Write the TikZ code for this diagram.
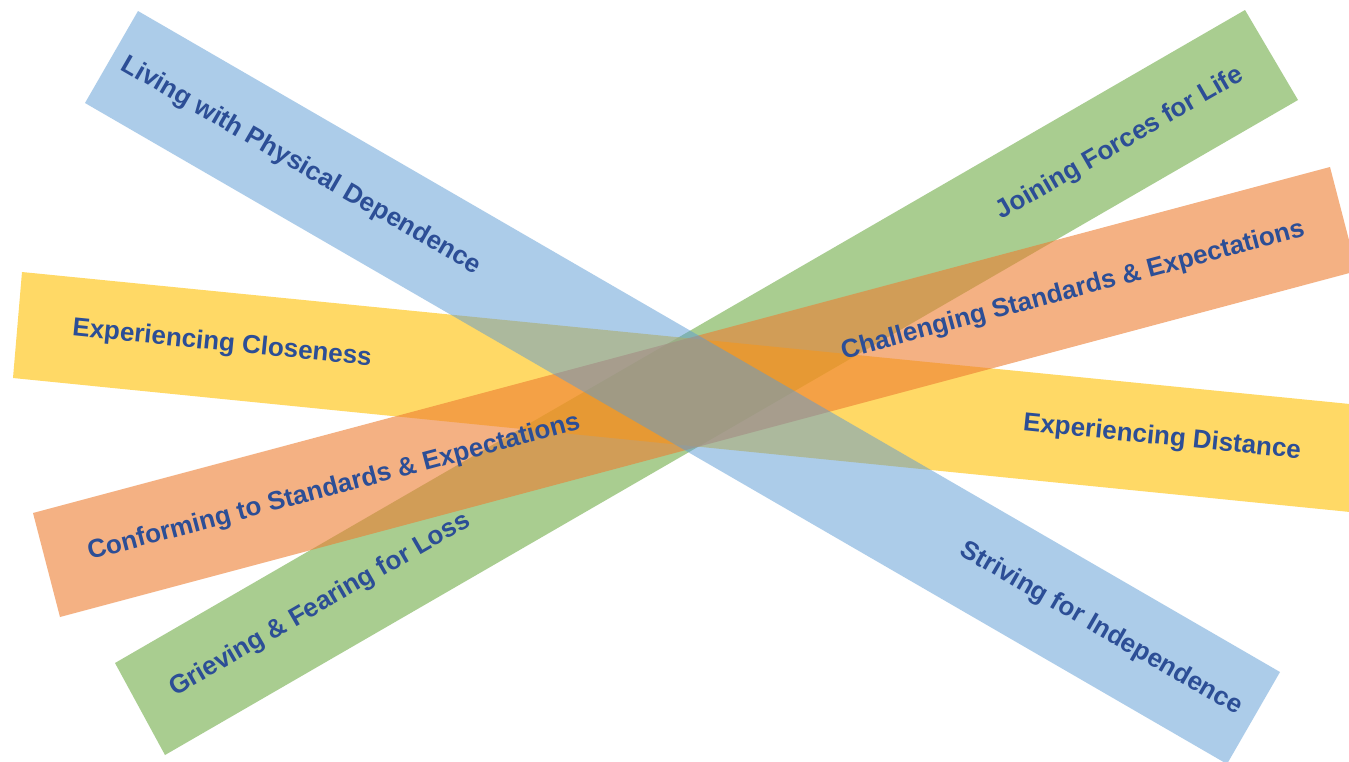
\documentclass[tikz,border=0pt]{standalone}
\usepackage{fontspec}
\setmainfont{Liberation Sans}
\definecolor{bandblue}{RGB}{91,155,213}
\definecolor{bandgreen}{RGB}{112,173,71}
\definecolor{bandyellow}{RGB}{255,192,0}
\definecolor{bandorange}{RGB}{237,125,49}
\definecolor{labelblue}{RGB}{44,78,150}
\begin{document}
\begin{tikzpicture}[x=1pt,y=-1pt,
  band/.style={fill opacity=0.6, draw=none},
  lbl/.style={font=\bfseries\fontsize{26}{30}\selectfont, text=labelblue, inner sep=0pt}]
\useasboundingbox (0,0) rectangle (1349,761);
\clip (0,0) rectangle (1349,761);
\fill[white] (0,0) rectangle (1349,761);
% bands
\fill[band, fill=bandgreen]  (115,663) -- (165,755) -- (1298,100) -- (1245,10) -- cycle;
\fill[band, fill=bandyellow] (22,272) -- (13,378) -- (1380,515) -- (1390,408) -- cycle;
\fill[band, fill=bandorange] (33,513) -- (60,617) -- (1357,271) -- (1330,167) -- cycle;
\fill[band, fill=bandblue, fill opacity=0.5] (138,11) -- (85,103) -- (1227,764) -- (1280,672) -- cycle;
% labels
\node[lbl, rotate=-30]  (living)  at (301,166) {Living with Physical Dependence};
\node[lbl, rotate=-30]  (striving) at (1101,629) {Striving for Independence};
\node[lbl, rotate=30]   (joining) at (1120,144) {Joining Forces for Life};
\node[lbl, rotate=30]   (grieving) at (320,605) {Grieving \& Fearing for Loss};
\node[lbl, rotate=-5.7] (closeness) at (222,344) {Experiencing Closeness};
\node[lbl, rotate=-5.7] (distance) at (1162,438) {Experiencing Distance};
\node[lbl, rotate=14.94] (challenging) at (1073,291) {Challenging Standards \& Expectations};
\node[lbl, rotate=14.94] (conforming) at (334,488) {Conforming to Standards \& Expectations};
\end{tikzpicture}
\end{document}
